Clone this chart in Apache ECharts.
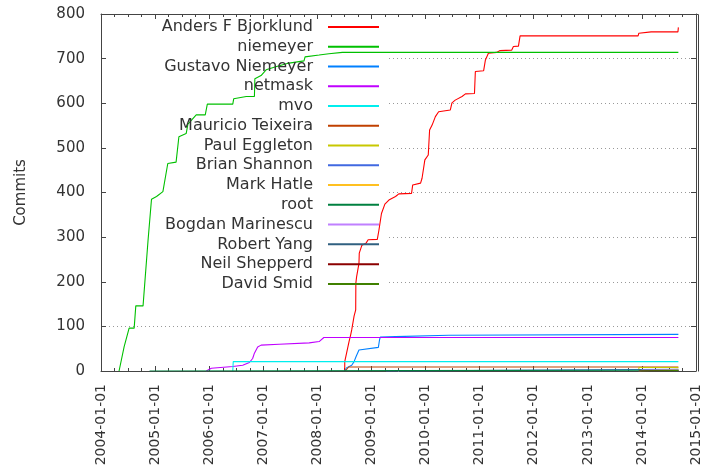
<!DOCTYPE html>
<html>
<head>
<meta charset="utf-8">
<script src="https://cdn.jsdelivr.net/npm/echarts@6/dist/echarts.min.js"></script>
<style>
  html, body { margin: 0; padding: 0; background: #fff; }
  #chart { width: 703px; height: 470px; }
</style>
</head>
<body>
<div id="chart"></div>
<script>
// cumulative commits per author: [date, commits]
const andersBjorklund = [
  ['2008-07-04', 0], ['2008-07-04', 21], ['2008-07-12', 25], ['2008-08-02', 66], ['2008-08-13', 81],
  ['2008-08-20', 92], ['2008-09-05', 123], ['2008-09-16', 137], ['2008-09-17', 197], ['2008-09-22', 211],
  ['2008-10-08', 241], ['2008-10-10', 264], ['2008-10-28', 282], ['2008-11-24', 286], ['2008-12-09', 294],
  ['2009-02-09', 295], ['2009-02-20', 316], ['2009-03-09', 353], ['2009-04-01', 374], ['2009-04-28', 383],
  ['2009-06-12', 391], ['2009-07-04', 397], ['2009-09-28', 398], ['2009-10-06', 417], ['2009-11-28', 421],
  ['2009-12-08', 432], ['2009-12-27', 473], ['2010-01-19', 484], ['2010-01-28', 540], ['2010-02-14', 551],
  ['2010-03-08', 570], ['2010-03-30', 581], ['2010-06-17', 585], ['2010-06-28', 601], ['2010-07-20', 607],
  ['2010-09-04', 615], ['2010-09-27', 621], ['2010-11-27', 622], ['2010-12-03', 671], ['2011-01-28', 673],
  ['2011-02-09', 697], ['2011-03-01', 712], ['2011-04-26', 714], ['2011-05-19', 718], ['2011-08-05', 719],
  ['2011-08-17', 727], ['2011-09-20', 728], ['2011-10-01', 751], ['2013-12-06', 751], ['2013-12-11', 757],
  ['2014-03-04', 760], ['2014-09-01', 760], ['2014-09-04', 770]
];
const niemeyer = [
  ['2004-05-02', 0], ['2004-06-05', 54], ['2004-07-09', 96], ['2004-08-12', 96], ['2004-08-23', 146],
  ['2004-10-11', 146], ['2004-11-14', 294], ['2004-12-07', 385], ['2005-01-10', 391], ['2005-02-22', 402],
  ['2005-03-27', 465], ['2005-05-22', 468], ['2005-06-10', 525], ['2005-07-29', 532], ['2005-08-10', 553],
  ['2005-10-05', 574], ['2005-12-05', 574], ['2005-12-19', 598], ['2006-06-09', 598], ['2006-06-15', 610],
  ['2006-09-08', 615], ['2006-11-02', 615], ['2006-11-05', 655], ['2006-12-17', 662], ['2007-01-20', 675],
  ['2007-03-26', 682], ['2007-06-24', 690], ['2007-10-03', 695], ['2007-10-10', 704], ['2008-01-13', 708],
  ['2008-03-19', 711], ['2008-06-18', 714], ['2014-09-04', 714]
];
const gustavoNiemeyer = [
  ['2008-07-06', 0], ['2008-07-15', 7], ['2008-08-20', 13], ['2008-09-05', 21], ['2008-09-18', 32],
  ['2008-10-08', 47], ['2008-10-18', 51], ['2009-02-16', 53], ['2009-02-24', 70], ['2009-03-01', 76],
  ['2009-06-12', 77], ['2009-06-17', 80], ['2010-06-06', 80], ['2010-06-11', 82], ['2014-09-04', 82]
];
const netmask = [
  ['2005-12-12', 0], ['2006-01-15', 6], ['2006-01-26', 10], ['2006-06-09', 10], ['2006-08-15', 13],
  ['2006-09-29', 19], ['2006-10-21', 28], ['2006-11-02', 40], ['2006-11-24', 54], ['2006-12-17', 58],
  ['2007-04-18', 60], ['2007-11-07', 63], ['2008-01-13', 66], ['2008-02-14', 75], ['2014-09-04', 75]
];
const mvo = [['2006-06-09', 0], ['2006-06-12', 21], ['2014-09-04', 21]];
const mauricioTeixeira = [['2008-07-08', 0], ['2008-07-30', 9], ['2014-09-04', 9]];
const paulEggleton = [['2013-12-09', 0], ['2013-12-12', 8], ['2014-09-04', 8]];
const brianShannon = [['2009-04-08', 0], ['2009-04-10', 4], ['2014-09-04', 4]];
const markHatle = [['2013-12-10', 0], ['2013-12-16', 4], ['2014-09-04', 4]];
const root = [['2004-11-24', 0], ['2004-11-26', 2], ['2014-09-04', 2]];
const bogdanMarinescu = [['2013-12-11', 0], ['2014-01-07', 2], ['2014-09-04', 2]];
const robertYang = [['2013-12-10', 0], ['2013-12-10', 1], ['2014-09-04', 1]];
const neilShepperd = [['2013-12-12', 0], ['2013-12-12', 1], ['2014-09-04', 1]];
const davidSmid = [['2013-12-13', 0], ['2013-12-13', 1], ['2014-09-04', 1]];

const authors = ['Anders F Bjorklund', 'niemeyer', 'Gustavo Niemeyer', 'netmask', 'mvo', 'Mauricio Teixeira',
  'Paul Eggleton', 'Brian Shannon', 'Mark Hatle', 'root', 'Bogdan Marinescu', 'Robert Yang', 'Neil Shepperd', 'David Smid'];
const authorData = [andersBjorklund, niemeyer, gustavoNiemeyer, netmask, mvo, mauricioTeixeira,
  paulEggleton, brianShannon, markHatle, root, bogdanMarinescu, robertYang, neilShepperd, davidSmid];
const colors = ['#ff0000', '#00c000', '#0080ff', '#c000ff', '#00eeee', '#c04000', '#c8c800',
  '#4169e1', '#ffc020', '#008040', '#c080ff', '#306080', '#8b0000', '#408000'];

const xMin = '2004-01-01';
const xMax = '2015-01-01';
const yTicks = [0, 800, 100]; // min, max, step

function pad(n) { return n < 10 ? '0' + n : '' + n; }
function dateLabel(v) {
  const d = new Date(v);
  return d.getFullYear() + '-' + pad(d.getMonth() + 1) + '-' + pad(d.getDate());
}

const YEAR = 365 * 24 * 3600 * 1000;
const axisColor = '#444';
const textColor = '#333';
const W = 703, H = 470;
const gridBox = { left: 101, right: 5, top: 14, bottom: 99 };

// gnuplot style: inward ticks
function xAxisAt(position, label) {
  return {
    type: 'time',
    position: position,
    min: xMin,
    max: xMax,
    minInterval: YEAR,
    maxInterval: YEAR + 24 * 3600 * 1000,
    axisLine: { show: true, onZero: false, lineStyle: { color: axisColor, width: 1 } },
    axisTick: { show: true, inside: true, length: 5, lineStyle: { color: axisColor } },
    minorTick: { show: true, splitNumber: 4, length: 3, lineStyle: { color: axisColor } },
    axisLabel: label,
    splitLine: { show: false }
  };
}
function yAxisAt(position, label, split) {
  return {
    type: 'value',
    position: position,
    min: yTicks[0], max: yTicks[1], interval: yTicks[2],
    axisLine: { show: true, onZero: false, lineStyle: { color: axisColor, width: 1 } },
    axisTick: { show: true, inside: true, length: 5, lineStyle: { color: axisColor } },
    axisLabel: label,
    splitLine: split
  };
}

let yLeft = yAxisAt('left',
  { margin: 16, fontSize: 15, color: textColor },
  { show: true, showMinLine: false, showMaxLine: false, lineStyle: { color: '#999', type: [1, 3], width: 1 } });
yLeft.name = 'Commits';
yLeft.nameLocation = 'middle';
yLeft.nameRotate = 90;
yLeft.nameGap = 72;
yLeft.nameTextStyle = { fontSize: 15, color: textColor };

// top and right sides of the plot box, taken from the grid edges
const boxTop = gridBox.top + 0.5;
const boxRight = W - gridBox.right + 0.5;
const boxBottom = H - gridBox.bottom + 0.5;

let option = {
  animation: false,
  color: colors,
  textStyle: { fontFamily: 'DejaVu Sans' },
  grid: gridBox,
  legend: {
    data: authors,
    orient: 'vertical',
    align: 'right',
    right: 324,
    top: 17,
    padding: 0,
    itemGap: 0,
    itemWidth: 51,
    itemHeight: 2,
    icon: 'rect',
    selectedMode: false,
    textStyle: { fontSize: 16, color: textColor, lineHeight: 19.77, padding: [0, 10, 0, 0] }
  },
  graphic: [
    {
      // the key box hides the grid lines behind it, but not the data lines
      type: 'rect',
      z: 1,
      shape: { x: gridBox.left + 5, y: gridBox.top + 6, width: 283, height: 280 },
      style: { fill: '#fff' },
      silent: true
    },
    {
      type: 'polyline',
      z: 10,
      shape: { points: [[gridBox.left, boxTop], [boxRight, boxTop], [boxRight, boxBottom]] },
      style: { stroke: axisColor, lineWidth: 1, fill: null },
      silent: true
    }
  ],
  xAxis: [
    xAxisAt('bottom', { rotate: 90, margin: 13, fontSize: 14, color: textColor,
      showMinLabel: true, showMaxLabel: true, formatter: dateLabel }),
    xAxisAt('top', { show: false })
  ],
  yAxis: [
    yLeft,
    yAxisAt('right', { show: false }, { show: false })
  ],
  series: authors.map((name, i) => ({
    name: name,
    type: 'line',
    data: authorData[i],
    symbol: 'none',
    lineStyle: { width: 1.1, color: colors[i] },
    itemStyle: { color: colors[i] },
    emphasis: { disabled: true }
  }))
};

let myChart = echarts.init(document.getElementById('chart'));
myChart.setOption(option);
window.addEventListener('resize', function () {
  myChart.resize();
});
</script>
</body>
</html>
